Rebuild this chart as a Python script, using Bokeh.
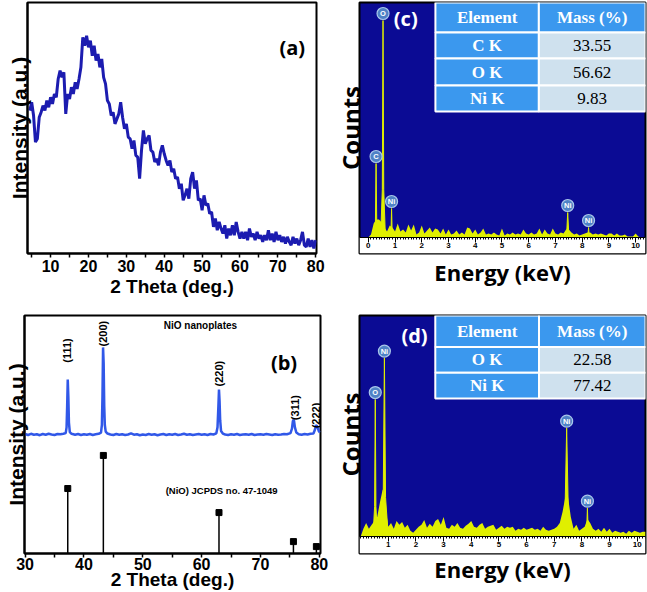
import numpy as np
from bokeh.plotting import figure
from bokeh.layouts import column, row
from bokeh.models import Range1d, LinearAxis, FixedTicker, Label
from bokeh.core.properties import value
from bokeh.embed import file_html
from bokeh.resources import INLINE

# ---------------- (a) XRD of precursor ----------------
two_theta_a = np.arange(4.5, 80.01, 0.5)
intensity_a = [430, 455, 415, 335, 345, 410, 425, 445, 430, 460,
               440, 470, 450, 480, 470, 525, 550, 530, 545, 420,
               480, 465, 500, 480, 515, 495, 525, 560, 650, 625,
               655, 620, 640, 595, 625, 580, 600, 560, 585, 530,
               510, 460, 450, 415, 425, 390, 405, 420, 455, 410,
               375, 390, 350, 345, 315, 340, 295, 290, 225, 310,
               370, 330, 345, 355, 310, 305, 275, 285, 265, 305,
               325, 300, 280, 265, 280, 245, 255, 225, 230, 195,
               210, 160, 175, 195, 165, 225, 245, 195, 220, 160,
               165, 130, 175, 145, 150, 120, 125, 80, 105, 70,
               95, 75, 60, 85, 45, 75, 55, 85, 55, 95,
               65, 45, 65, 45, 65, 40, 75, 50, 60, 40,
               65, 45, 55, 35, 55, 40, 70, 40, 60, 35,
               65, 40, 55, 35, 50, 30, 50, 35, 25, 50,
               30, 45, 25, 40, 65, 25, 20, 45, 20, 40,
               15, 40]
ticks_a = [10, 20, 30, 40, 50, 60, 70, 80]
minor_a = [5, 15, 25, 35, 45, 55, 65, 75]

# ---------------- (b) XRD of NiO ----------------
two_theta_b = [30.0, 30.5, 31.0, 31.5, 32.0, 32.5, 33.0, 33.5, 34.0, 34.5,
               35.0, 35.5, 36.0, 36.5, 36.9, 37.05, 37.15, 37.25, 37.35, 37.45,
               37.6, 37.9, 38.5, 39.0, 39.5, 40.0, 40.5, 41.0, 41.5, 42.0,
               42.5, 42.9, 43.05, 43.15, 43.25, 43.35, 43.45, 43.55, 43.7, 44.0,
               44.5, 45.0, 45.5, 46.0, 46.5, 47.0, 47.5, 48.0, 48.5, 49.0,
               49.5, 50.0, 50.5, 51.0, 51.5, 52.0, 52.5, 53.0, 53.5, 54.0,
               54.5, 55.0, 55.5, 56.0, 56.5, 57.0, 57.5, 58.0, 58.5, 59.0,
               59.5, 60.0, 60.5, 61.0, 61.5, 62.0, 62.5, 62.7, 62.85, 62.95,
               63.05, 63.15, 63.3, 63.6, 64.0, 64.5, 65.0, 65.5, 66.0, 66.5,
               67.0, 67.5, 68.0, 68.5, 69.0, 69.5, 70.0, 70.5, 71.0, 71.5,
               72.0, 72.5, 73.0, 73.5, 74.0, 74.5, 75.1, 75.35, 75.5, 75.6,
               75.7, 75.85, 76.1, 76.5, 77.0, 77.5, 78.0, 78.5, 79.0, 79.25,
               79.4, 79.55, 79.7, 79.9, 80.1]
intensity_b = [50.2, 49.8, 50.3, 49.9, 50.1, 49.7, 50.2, 49.9, 50.3, 50.0,
               49.8, 50.2, 50.1, 50.3, 50.6, 53.0, 62.0, 73.1, 66.0, 55.0,
               51.0, 50.3, 49.9, 50.2, 49.8, 50.1, 49.9, 50.2, 49.8, 50.1,
               50.3, 50.8, 54.0, 66.0, 86.6, 80.0, 62.0, 54.0, 51.2, 50.4,
               50.0, 49.8, 50.2, 49.9, 50.1, 49.8, 50.0, 50.5, 49.9, 50.1,
               49.7, 50.0, 49.8, 50.2, 49.9, 50.1, 49.7, 50.0, 50.2, 49.8,
               50.1, 49.9, 50.2, 49.8, 50.0, 50.3, 49.9, 50.1, 49.8, 50.0,
               50.2, 49.9, 50.1, 49.8, 50.2, 50.0, 50.5, 53.0, 62.0, 68.9,
               64.0, 56.0, 51.5, 50.4, 50.0, 49.8, 50.1, 49.9, 50.2, 49.8,
               50.0, 50.1, 49.9, 50.2, 49.8, 50.0, 50.1, 49.9, 50.2, 50.0,
               49.8, 50.1, 49.9, 50.0, 50.2, 50.1, 50.6, 52.5, 55.5, 56.3,
               55.8, 53.0, 50.8, 50.1, 49.9, 50.2, 50.0, 50.3, 50.4, 52.0,
               53.6, 53.8, 53.0, 51.5, 50.8]
jcpds_pos = [37.25, 43.3, 62.95, 75.6, 79.5]
jcpds_int = [27.3, 41.2, 17.2, 5.0, 2.9]
hkl_text = ["(111)", "(200)", "(220)", "(311)", "(222)"]
hkl_x = [37.2, 43.3, 62.95, 75.8, 79.4]
hkl_y = [85.3, 92.4, 75.6, 61.3, 58.0]
ticks_b = [30, 40, 50, 60, 70, 80]
minor_b = [35, 45, 55, 65, 75]

# ---------------- (c) EDS precursor ----------------
energy = np.round(np.arange(0, 10.31, 0.1), 2)
counts_c = [0, 3, 14, 18, 18, 15, 10, 6, 12, 10,
            6, 14, 6, 8, 5, 13, 7, 13, 3, 5,
            12, 4, 7, 10, 5, 9, 8, 4, 9, 3,
            8, 3, 4, 7, 3, 5, 3, 10, 9, 4,
            8, 3, 5, 9, 3, 4, 3, 5, 3, 2,
            9, 2, 4, 3, 5, 3, 4, 3, 8, 4,
            3, 5, 3, 4, 9, 3, 8, 4, 3, 9,
            4, 3, 5, 4, 8, 8, 5, 3, 4, 2,
            3, 4, 5, 5, 3, 4, 3, 4, 3, 2,
            4, 4, 2, 4, 2, 2, 3, 1, 1, 1,
            4, 1, 0, 0]
peak_e_c = [0.29, 0.55, 0.87, 7.46, 8.24]
peak_h_c = [74, 217, 29, 25, 10]
peak_w_c = [0.08, 0.09, 0.07, 0.12, 0.07]
peak_el_c = ["C", "O", "Ni", "Ni", "Ni"]
table_el_c = ["C K", "O K", "Ni K"]
table_mass_c = ["33.55", "56.62", "9.83"]

# ---------------- (d) EDS NiO ----------------
counts_d = [0, 8, 14, 8, 12, 16, 20, 35, 48, 30,
            10, 14, 8, 16, 12, 15, 9, 12, 6, 4,
            7, 10, 12, 17, 9, 13, 10, 16, 18, 12,
            20, 9, 8, 12, 10, 14, 9, 8, 11, 13,
            16, 10, 9, 12, 14, 8, 10, 11, 12, 7,
            9, 11, 8, 10, 9, 10, 6, 8, 7, 9,
            7, 8, 9, 7, 8, 6, 10, 7, 6, 7,
            8, 10, 14, 25, 40, 40, 20, 8, 12, 6,
            8, 10, 18, 14, 8, 6, 8, 5, 9, 5,
            8, 4, 6, 5, 4, 5, 3, 6, 4, 6,
            5, 4, 5, 5]
peak_e_d = [0.53, 0.86, 7.45, 8.2]
peak_h_d = [139, 181, 110, 29]
peak_w_d = [0.08, 0.14, 0.2, 0.09]
peak_el_d = ["O", "Ni", "Ni", "Ni"]
table_el_d = ["O K", "Ni K"]
table_mass_d = ["22.58", "77.42"]

header = ["Element", "Mass (%)"]

NAVY = "#0b0b94"
YELLOW = "#e0ef00"
TBLUE = "#3b98ee"
TLIGHT = "#cfe1ee"
SANS = "Liberation Sans"


def style_xrd(p, ticks, minor, label_text, lab_standoff, title_standoff):
    p.grid.visible = False
    p.outline_line_color = "black"
    p.outline_line_width = 2
    p.background_fill_color = "white"
    ax = p.xaxis[0]
    ax.ticker = FixedTicker(ticks=ticks, minor_ticks=minor)
    ax.axis_line_width = 2
    ax.axis_line_color = "black"
    ax.major_tick_in = 0
    ax.major_tick_out = 4
    ax.minor_tick_in = 0
    ax.minor_tick_out = 4
    ax.major_tick_line_width = 1.5
    ax.minor_tick_line_width = 1.5
    ax.major_label_text_font = SANS
    ax.major_label_text_font_style = "bold"
    ax.major_label_text_font_size = "16px"
    ax.major_label_text_color = "black"
    ax.major_label_standoff = lab_standoff
    ax.axis_label = "2 Theta (deg.)"
    ax.axis_label_text_font = SANS
    ax.axis_label_text_font_style = "bold"
    ax.axis_label_text_font_size = "19px"
    ax.axis_label_text_color = "black"
    ax.axis_label_standoff = title_standoff
    ay = p.yaxis[0]
    ay.ticker = FixedTicker(ticks=[])
    ay.axis_line_width = 2
    ay.axis_line_color = "black"
    ay.major_tick_line_color = None
    ay.minor_tick_line_color = None
    ay.major_label_text_font_size = "0px"
    ay.major_label_standoff = 0
    ay.axis_label = label_text
    ay.axis_label_text_font = SANS
    ay.axis_label_text_font_style = "bold"
    ay.axis_label_text_font_size = "21px"
    ay.axis_label_text_color = "black"
    ay.axis_label_standoff = -3


# ---- panel (a)
pa = figure(width=330, height=302, x_range=Range1d(3.9, 80.2), y_range=Range1d(0, 755),
            output_backend="svg", toolbar_location=None,
            min_border_left=27, min_border_right=14, min_border_top=2, min_border_bottom=49)
style_xrd(pa, ticks_a, minor_a, "Intensity (a.u.)", 2, 1)
pa.line(two_theta_a, intensity_a, line_color="#1c1cb0", line_width=3)
pa.add_layout(Label(x=73.8, y=620, text="(a)", text_font="Open Sans", text_font_style="bold",
                    text_font_size="20px", text_align="center", text_baseline="middle",
                    text_color="black"))

# ---- panel (b)
pb = figure(width=330, height=290, x_range=Range1d(29.9, 80.2), y_range=Range1d(0, 100),
            output_backend="svg", toolbar_location=None,
            min_border_left=24, min_border_right=10, min_border_top=13, min_border_bottom=39)
style_xrd(pb, ticks_b, minor_b, "Intensity (a.u.)", 0, -4)
pb.line(two_theta_b, intensity_b, line_color="#3158e8", line_width=2.5)
pb.segment(x0=jcpds_pos, y0=[0] * len(jcpds_pos), x1=jcpds_pos, y1=jcpds_int,
           line_color="black", line_width=1.5)
pb.scatter(jcpds_pos, jcpds_int, marker="square", size=6, fill_color="black", line_color="black")
pb.text(x=hkl_x, y=hkl_y, text=hkl_text, angle=np.pi / 2, text_align="center",
        text_baseline="middle", text_font=value(SANS), text_font_style="bold",
        text_font_size="11px", text_color="black")
pb.add_layout(Label(x=59.8, y=95.8, text="NiO nanoplates", text_font=SANS, text_font_style="bold",
                    text_font_size="10px", text_align="center", text_baseline="middle",
                    text_color="black"))
pb.add_layout(Label(x=63.4, y=26.5, text="(NiO) JCPDS no. 47-1049", text_font=SANS,
                    text_font_style="bold", text_font_size="9.5px", text_align="center",
                    text_baseline="middle", text_color="black"))
pb.add_layout(Label(x=74.0, y=80.3, text="(b)", text_font="Open Sans", text_font_style="bold",
                    text_font_size="20px", text_align="center", text_baseline="middle",
                    text_color="black"))


def eds_fig(width, height, xr, yr, mtop, mbottom, label_standoff, counts, pe, ph, pw, pel,
            ticks, tab_x, tab_y, tab_el, tab_mass, tag, tag_xy):
    p = figure(width=width, height=height, x_range=Range1d(*xr), y_range=Range1d(*yr),
               output_backend="svg", toolbar_location=None,
               x_axis_location=None, y_axis_location=None,
               min_border_left=25, min_border_right=2, min_border_top=mtop,
               min_border_bottom=mbottom)
    p.grid.visible = False
    p.background_fill_color = NAVY
    p.outline_line_color = "black"
    p.outline_line_width = 2
    # white scale band
    p.quad(left=[xr[0]], right=[xr[1]], bottom=[yr[0]], top=[0], fill_color="white",
           line_color=None)
    # spectrum
    p.varea(x=energy, y1=0, y2=counts, fill_color=YELLOW)
    xs = [[e - w, e - 0.3 * w, e, e + 0.3 * w, e + w] for e, w in zip(pe, pw)]
    ys = [[0, 0.22 * h, h, 0.22 * h, 0] for h in ph]
    p.patches(xs, ys, fill_color=YELLOW, line_color=YELLOW, line_width=1)
    # element markers
    lab_y = [h + 7 for h in ph]
    p.scatter(pe, lab_y, size=12, fill_color="#4f82c6", line_color="#a9c6ea", line_width=1.2)
    p.text(x=pe, y=lab_y, text=pel, text_align="center", text_baseline="middle",
           text_font=value(SANS), text_font_style="bold", text_font_size="7.5px",
           text_color="white")
    # table
    x0, xm, x1 = tab_x
    n = len(tab_y) - 1
    lefts, rights, tops, bottoms, colors = [], [], [], [], []
    for i in range(n):
        lefts += [x0, xm]
        rights += [xm, x1]
        tops += [tab_y[i]] * 2
        bottoms += [tab_y[i + 1]] * 2
        colors += [TBLUE, TBLUE if i == 0 else TLIGHT]
    p.quad(left=lefts, right=rights, top=tops, bottom=bottoms, fill_color=colors,
           line_color="white", line_width=2)
    cy = [(tab_y[i] + tab_y[i + 1]) / 2 for i in range(n)]
    col1 = [header[0]] + tab_el
    col2 = [header[1]] + tab_mass
    p.text(x=[(x0 + xm) / 2] * n, y=cy, text=col1, text_align="center", text_baseline="middle",
           text_font=value("Liberation Serif"), text_font_style="bold", text_font_size="17px",
           text_color="white")
    p.text(x=[(xm + x1) / 2], y=cy[:1], text=col2[:1], text_align="center",
           text_baseline="middle", text_font=value("Liberation Serif"), text_font_style="bold",
           text_font_size="17px", text_color="white")
    p.text(x=[(xm + x1) / 2] * (n - 1), y=cy[1:], text=col2[1:], text_align="center",
           text_baseline="middle", text_font=value("Liberation Serif"), text_font_size="17px",
           text_color="black")
    p.add_layout(Label(x=tag_xy[0], y=tag_xy[1], text=tag, text_font="Open Sans",
                       text_font_style="bold", text_font_size="20px", text_align="center",
                       text_baseline="middle", text_color="white"))
    # axes
    minor = [round(0.1 * i, 1) for i in range(0, 104)]
    ruler = LinearAxis(fixed_location=0, ticker=FixedTicker(ticks=ticks, minor_ticks=minor),
                       major_tick_in=0, major_tick_out=5, minor_tick_in=0, minor_tick_out=2,
                       axis_line_color="black", major_tick_line_color="black",
                       minor_tick_line_color="black", major_label_text_font=SANS,
                       major_label_text_font_style="bold", major_label_text_font_size="8px",
                       major_label_text_color="black", major_label_standoff=0)
    p.add_layout(ruler, "below")
    lab = LinearAxis(ticker=FixedTicker(ticks=[]), axis_label="Energy (keV)",
                     axis_line_color=None, major_tick_line_color=None,
                     minor_tick_line_color=None, major_label_text_font_size="0px",
                     major_label_standoff=0, axis_label_text_color="black",
                     axis_label_text_font="Open Sans", axis_label_text_font_style="bold",
                     axis_label_text_font_size="22px", axis_label_standoff=label_standoff)
    p.add_layout(lab, "below")
    cnt = LinearAxis(ticker=FixedTicker(ticks=[]), axis_label="Counts",
                     axis_line_color=None, major_tick_line_color=None,
                     minor_tick_line_color=None, major_label_text_font_size="0px",
                     major_label_standoff=0, axis_label_text_color="black",
                     axis_label_text_font="Open Sans", axis_label_text_font_style="bold",
                     axis_label_text_font_size="24px", axis_label_standoff=-7)
    p.add_layout(cnt, "left")
    return p


pc = eds_fig(317, 302, (-0.33, 10.37), (-16, 235), 2, 49, 3, counts_c,
             peak_e_c, peak_h_c, peak_w_c, peak_el_c, list(range(0, 11)),
             (2.51, 6.38, 10.37), [235, 205, 179, 152, 126], table_el_c, table_mass_c,
             "(c)", (1.4, 219))
pd_ = eds_fig(317, 290, (-0.04, 10.3), (-17, 224), 13, 39, 0, counts_d,
              peak_e_d, peak_h_d, peak_w_d, peak_el_d, list(range(1, 11)),
              (2.70, 6.45, 10.3), [224, 192, 166, 140], table_el_d, table_mass_d,
              "(d)", (1.95, 204))

layout = column(row(pa, pc), row(pb, pd_))
open("out.html", "w").write(file_html(layout, INLINE))
